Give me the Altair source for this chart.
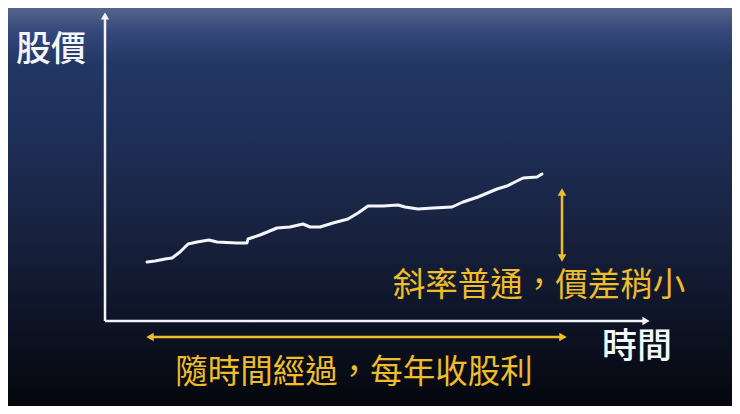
import altair as alt
import pandas as pd

# --- data (time units: px from y-axis; price units: px above x-axis) ---
line_t = [42, 50, 60, 67, 75, 83, 92, 104, 112, 132, 142, 143, 155, 172, 185, 198, 205,
          215, 228, 243, 253, 263, 278, 293, 300, 313, 328, 347, 358, 373, 392, 402,
          410, 418, 432, 437]
line_p = [59, 60, 62, 63, 69, 77, 79, 81, 79, 78, 78, 82, 86, 93, 94, 97, 94,
          94, 98, 102, 108, 115, 115, 116, 114, 112, 113, 114, 119, 124, 132, 135,
          139, 143, 144, 147]

label_text = ["股價", "時間"]
label_t = [-54, 532]
label_p = [271, -26]

note_text = ["斜率普通，價差稍小", "隨時間經過，每年收股利"]
note_t = [434, 249]
note_p = [35, -52]

# axis extents
x_axis_end = 545
y_axis_end = 309
# yellow arrows
h_arrow = [41, 462, -16]      # t start, t end, price
v_arrow = [457, 133, 59]      # t, price top, price bottom

X_DOM = [-97, 627]
Y_DOM = [-85, 313]
W, H = 724, 398

WHITE = "#f4f6fa"
YELLOW = "#efbd28"
FONT = "Noto Sans CJK TC"

xs = alt.Scale(domain=X_DOM, nice=False, zero=False)
ys = alt.Scale(domain=Y_DOM, nice=False, zero=False)

bg = alt.Chart(pd.DataFrame({"a": [0]})).mark_rect(
    color=alt.Gradient(
        gradient="linear", x1=0, x2=0, y1=0, y2=1,
        stops=[
            alt.GradientStop(offset=0.0, color="#56658b"),
            alt.GradientStop(offset=0.06, color="#34477a"),
            alt.GradientStop(offset=0.14, color="#233764"),
            alt.GradientStop(offset=0.32, color="#1e2f58"),
            alt.GradientStop(offset=0.56, color="#18223f"),
            alt.GradientStop(offset=0.78, color="#0e1427"),
            alt.GradientStop(offset=1.0, color="#05070c"),
        ],
    )
).encode(x=alt.value(0), x2=alt.value(W), y=alt.value(0), y2=alt.value(H))

axes_df = pd.DataFrame({
    "t": [0, 0], "p": [0, 0],
    "t2": [x_axis_end - 4, 0], "p2": [0, y_axis_end - 4],
})
axes = alt.Chart(axes_df).mark_rule(color=WHITE, strokeWidth=2.5).encode(
    x=alt.X("t:Q", scale=xs, axis=None), y=alt.Y("p:Q", scale=ys, axis=None),
    x2="t2:Q", y2="p2:Q",
)
heads_df = pd.DataFrame({
    "t": [x_axis_end - 4, 0], "p": [0, y_axis_end - 4],
    "shape": ["triangle-right", "triangle-up"],
})
heads = alt.Chart(heads_df).mark_point(filled=True, color=WHITE, opacity=1, size=70).encode(
    x=alt.X("t:Q", scale=xs, axis=None), y=alt.Y("p:Q", scale=ys, axis=None),
    shape=alt.Shape("shape:N", scale=None),
)

line_df = pd.DataFrame({"t": line_t, "p": line_p, "o": list(range(len(line_t)))})
line = alt.Chart(line_df).mark_line(
    color=WHITE, strokeWidth=3, strokeCap="round", strokeJoin="round"
).encode(
    x=alt.X("t:Q", scale=xs, axis=None), y=alt.Y("p:Q", scale=ys, axis=None), order="o:Q"
)

yarr_df = pd.DataFrame({
    "t": [h_arrow[0] + 4, v_arrow[0]], "p": [h_arrow[2], v_arrow[1] - 4],
    "t2": [h_arrow[1] - 4, v_arrow[0]], "p2": [h_arrow[2], v_arrow[2] + 4],
})
yarr = alt.Chart(yarr_df).mark_rule(color=YELLOW, strokeWidth=2.5).encode(
    x=alt.X("t:Q", scale=xs, axis=None), y=alt.Y("p:Q", scale=ys, axis=None),
    x2="t2:Q", y2="p2:Q",
)
yheads_df = pd.DataFrame({
    "t": [h_arrow[0] + 4, h_arrow[1] - 4, v_arrow[0], v_arrow[0]],
    "p": [h_arrow[2], h_arrow[2], v_arrow[1] - 4, v_arrow[2] + 4],
    "shape": ["triangle-left", "triangle-right", "triangle-up", "triangle-down"],
})
yheads = alt.Chart(yheads_df).mark_point(filled=True, color=YELLOW, opacity=1, size=75).encode(
    x=alt.X("t:Q", scale=xs, axis=None), y=alt.Y("p:Q", scale=ys, axis=None),
    shape=alt.Shape("shape:N", scale=None),
)

labels = alt.Chart(pd.DataFrame({"t": label_t, "p": label_p, "s": label_text})).mark_text(
    font=FONT, fontSize=35, color=WHITE, align="center", baseline="middle", fontWeight=500
).encode(x=alt.X("t:Q", scale=xs, axis=None), y=alt.Y("p:Q", scale=ys, axis=None), text="s:N")

notes = alt.Chart(pd.DataFrame({"t": note_t, "p": note_p, "s": note_text})).mark_text(
    font=FONT, fontSize=32.5, color=YELLOW, align="center", baseline="middle"
).encode(x=alt.X("t:Q", scale=xs, axis=None), y=alt.Y("p:Q", scale=ys, axis=None), text="s:N")

chart = alt.layer(bg, axes, heads, line, yarr, yheads, labels, notes).properties(
    width=W, height=H, padding=0,
    autosize=alt.AutoSizeParams(type="fit", contains="padding"),
    background="#0d1220",
).configure_view(stroke=None)

chart.save("out.html", embed_options={"renderer": "svg", "actions": False})
